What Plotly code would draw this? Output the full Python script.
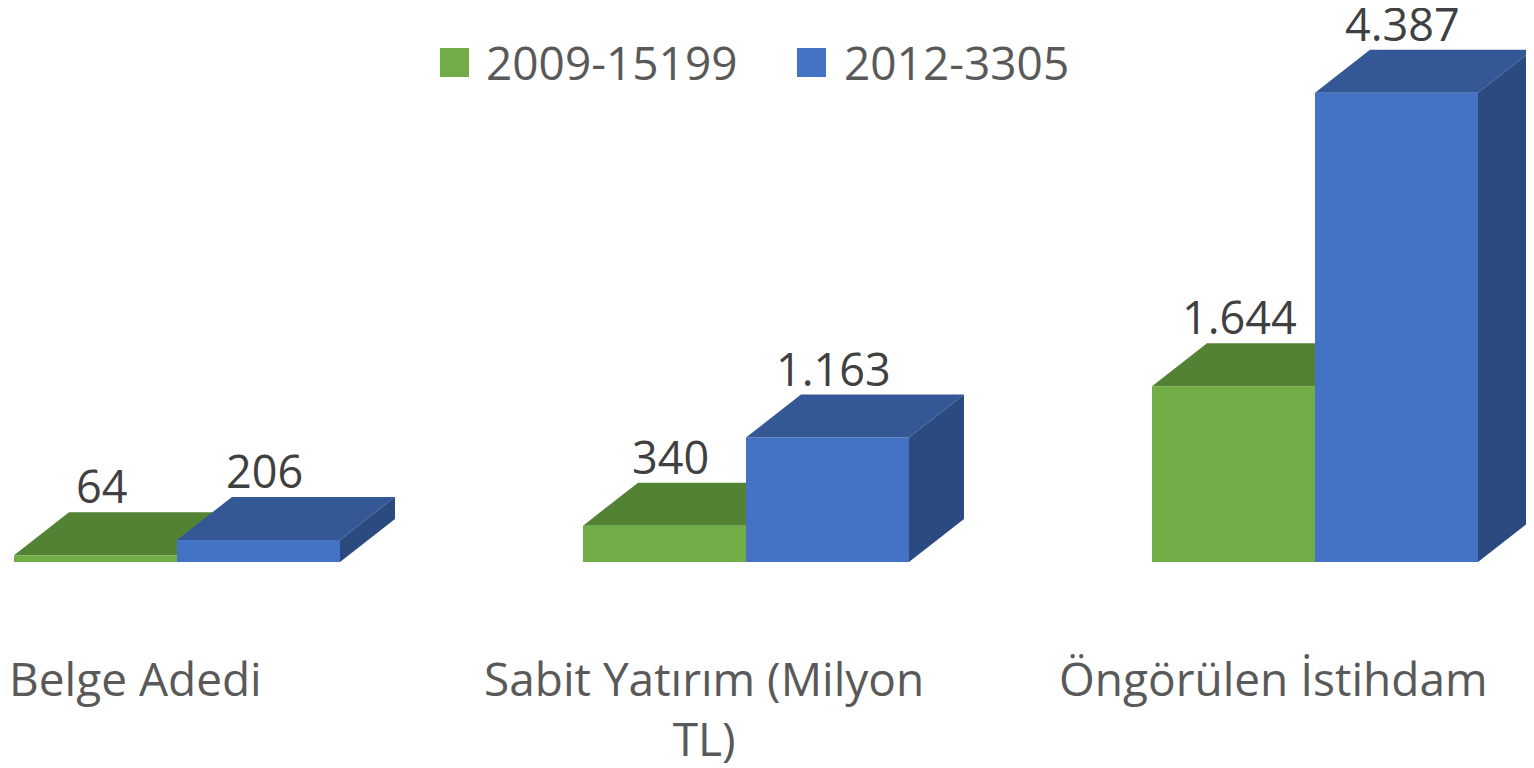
import plotly.graph_objects as go

categories = ["Belge Adedi", "Sabit Yatırım (Milyon<br>TL)", "Öngörülen İstihdam"]
series_names = ["2009-15199", "2012-3305"]
values_2009 = [64, 340, 1644]
values_2012 = [206, 1163, 4387]
value_labels_2009 = ["64", "340", "1.644"]
value_labels_2012 = ["206", "1.163", "4.387"]

# ---- geometry / style (pixels) ----
W, H = 1534, 768
PAGE_OFF = 8            # default body margin of the html page
PX_X = 569.0            # pixels per category step
PX_Y = 469.3 / 4387.0   # pixels per value unit
BASE_PX = 562 - PAGE_OFF  # baseline pixel row (figure coords)
X0_PX = 177 - PAGE_OFF    # first category centre (figure coords)
BAR_W = 163 / PX_X
DX = 55 / PX_X          # depth offset (x, data units)
DY = 43 / PX_Y          # depth offset (y, data units)
x_range = [-X0_PX / PX_X, (W - X0_PX) / PX_X]
y_range = [-(H - BASE_PX) / PX_Y, BASE_PX / PX_Y]

FONT = "Open Sans"
FS = 45
colors = {
    "2009-15199": dict(front="#70AD47", top="#548235", side="#4E7A31"),
    "2012-3305": dict(front="#4472C4", top="#335895", side="#2B4A80"),
}

fig = go.Figure()
xs = list(range(len(categories)))
series = [(series_names[0], values_2009, value_labels_2009, -BAR_W),
          (series_names[1], values_2012, value_labels_2012, 0.0)]

shapes = []
annotations = []
for si, (name, vals, labs, off) in enumerate(series):
    c = colors[name]
    fig.add_trace(go.Bar(x=xs, y=vals, base=0, width=BAR_W, offset=off,
                         marker=dict(color=c["front"], line=dict(width=0)),
                         name=name, showlegend=False, hoverinfo="skip"))
    layer = "below" if si == 0 else "above"
    for xi, v, lab in zip(xs, vals, labs):
        x0 = xi + off
        x1 = x0 + BAR_W
        # top face
        shapes.append(dict(type="path", xref="x", yref="y", layer=layer,
                           path=f"M{x0},{v} L{x1},{v} L{x1+DX},{v+DY} L{x0+DX},{v+DY} Z",
                           fillcolor=c["top"], line=dict(width=0)))
        # side face
        shapes.append(dict(type="path", xref="x", yref="y", layer=layer,
                           path=f"M{x1},0 L{x1+DX},{DY} L{x1+DX},{v+DY} L{x1},{v} Z",
                           fillcolor=c["side"], line=dict(width=0)))
        annotations.append(dict(x=x0 + BAR_W / 2 + 6 / PX_X, y=v + DY, xref="x", yref="y",
                                text=lab, showarrow=False, yanchor="bottom", xanchor="center",
                                yshift=-6,
                                font=dict(family=FONT, size=FS, color="#404040")))

# category labels
for xi, cat in zip(xs, categories):
    annotations.append(dict(x=xi - 42 / PX_X, y=-(645 - 562) / PX_Y, xref="x", yref="y",
                            text=cat, showarrow=False, yanchor="top", xanchor="center",
                            font=dict(family=FONT, size=46, color="#595959")))

# legend (manual)
legend_items = [(series_names[0], 440 - PAGE_OFF, 484 - PAGE_OFF),
                (series_names[1], 797 - PAGE_OFF, 842 - PAGE_OFF)]
for name, sx, tx in legend_items:
    shapes.append(dict(type="rect", xref="paper", yref="paper",
                       x0=sx / W, x1=(sx + 29) / W,
                       y0=1 - (77 - PAGE_OFF) / H, y1=1 - (48 - PAGE_OFF) / H,
                       fillcolor=colors[name]["front"], line=dict(width=0)))
    annotations.append(dict(x=tx / W, y=1 - (62 - PAGE_OFF) / H, xref="paper", yref="paper",
                            text=name, showarrow=False, xanchor="left", yanchor="middle",
                            font=dict(family=FONT, size=46, color="#595959")))

fig.update_layout(
    width=W, height=H,
    margin=dict(l=0, r=0, t=0, b=0),
    paper_bgcolor="white", plot_bgcolor="white",
    barmode="overlay",
    xaxis=dict(range=x_range, visible=False, fixedrange=True),
    yaxis=dict(range=y_range, visible=False, fixedrange=True),
    shapes=shapes, annotations=annotations,
)

fig.write_html("out.html")
